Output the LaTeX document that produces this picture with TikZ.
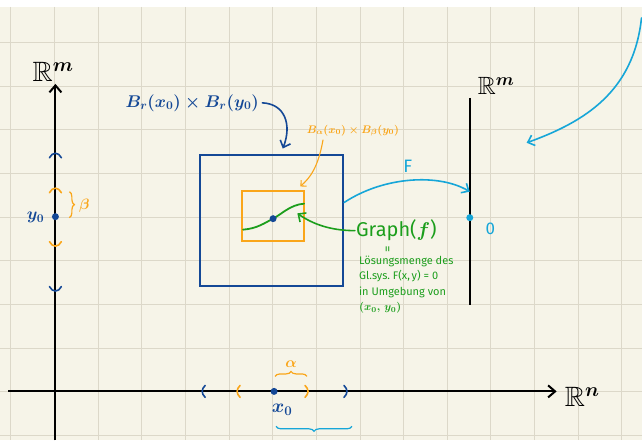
\RequirePackage{fix-cm}
\documentclass[tikz,border=0pt]{standalone}
\usepackage{amsmath,amssymb}
\usepackage{fontspec}
\setmainfont{Fira Sans}
\definecolor{paper}{RGB}{246,244,232}
\definecolor{gridgray}{RGB}{220,216,201}
\definecolor{inkblue}{RGB}{20,72,150}
\definecolor{inkorange}{RGB}{250,166,26}
\definecolor{inkgreen}{RGB}{28,158,28}
\definecolor{inkcyan}{RGB}{22,166,216}
\usetikzlibrary{arrows.meta,positioning,decorations.pathreplacing}

\begin{document}
\begin{tikzpicture}[x=1pt, y=-1pt,
  axisline/.style={line width=2pt, black},
  inkline/.style={line width=1.6pt, line cap=round},
  arrowtip/.style={-{Straight Barb[length=6pt, width=11pt]}},
  pointmark/.style={circle, fill=#1, inner sep=0pt, minimum size=7pt},
  curly/.style={decorate, decoration={brace, amplitude=5pt}, line width=1.2pt},
  sizept/.style={font=\fontsize{#1}{#1}\selectfont\boldmath}]

  % Paper and grid
  \fill[white] (0,0) rectangle (642,441);
  \fill[paper] (0,7) rectangle (642,441);
  \foreach \gx in {0,...,14}
    \draw[gridgray, line width=1pt] ({10.5+43.7*\gx},7) -- ({10.5+43.7*\gx},441);
  \foreach \gy in {0,...,9}
    \draw[gridgray, line width=1pt] (0,{42.7+43.7*\gy}) -- (642,{42.7+43.7*\gy});
  \useasboundingbox (0,0) rectangle (642,441);

  % Horizontal axis
  \coordinate (xleft) at (8,392);
  \coordinate (xright) at (557,392);
  \draw[axisline, -{Straight Barb[length=7pt, width=12pt]}] (xleft) -- (xright);
  \node[sizept=28, anchor=base west, inner sep=0pt] (Rn) at (565,407) {$\mathbb{R}^n$};

  % Vertical axis
  \coordinate (ybottom) at (55,441);
  \coordinate (ytop) at (55,84);
  \draw[axisline, -{Straight Barb[length=7pt, width=12pt]}] (ybottom) -- (ytop);
  \node[sizept=28, anchor=base west, inner sep=0pt] (Rmleft) at (32,82) {$\mathbb{R}^m$};

  % Intervals on the vertical axis
  \draw[inkline, inkblue] (49,158) .. controls (52,152) and (58,152) .. (61,158);
  \draw[inkline, inkorange] (49,193) .. controls (52,187) and (58,187) .. (61,193);
  \draw[inkline, inkorange] (49,242) .. controls (52,248) and (58,248) .. (61,242);
  \draw[inkline, inkblue] (49,287) .. controls (52,293) and (58,293) .. (61,287);
  \node[pointmark=inkblue] (y0) at (55,217) {};
  \node[text=inkblue, sizept=17] (y0lab) at (35,218) {$y_0$};
  \draw[curly, inkorange] (69,192) -- (69,218);
  \node[text=inkorange, sizept=15] (betalab) at (84,206) {$\beta$};

  % Intervals on the horizontal axis
  \draw[inkline, inkblue] (205,386) .. controls (201,390) and (201,394) .. (205,398);
  \draw[inkline, inkorange] (240,386) .. controls (236,390) and (236,394) .. (240,398);
  \draw[inkline, inkorange] (305,386) .. controls (309,390) and (309,394) .. (305,398);
  \draw[inkline, inkblue] (344,386) .. controls (348,390) and (348,394) .. (344,398);
  \node[pointmark=inkblue] (x0) at (274,392) {};
  \node[text=inkblue, sizept=19] (x0lab) at (282,410) {$x_0$};
  \draw[curly, inkorange] (275,377) -- (307,377);
  \node[text=inkorange, sizept=15] (alphalab) at (291,365) {$\alpha$};
  \draw[curly, inkcyan, decoration={mirror}] (276,427) -- (352,427);

  % Boxes
  \node[draw=inkblue, line width=2pt, minimum width=143pt, minimum height=132pt, inner sep=0pt] (Bbig) at (271.7,220.8) {};
  \node[draw=inkorange, line width=2pt, minimum width=62pt, minimum height=50pt, inner sep=0pt] (Bsmall) at (273.3,216.7) {};
  \draw[inkline, inkgreen, line width=1.8pt] (243,230) .. controls (257,229) and (265,223) .. (273,219)
    .. controls (281,215) and (290,205) .. (304,204);
  \node[pointmark=inkblue] (p0) at (273,219) {};

  % Box labels
  \node[text=inkblue, sizept=17] (Blab) at (192,103) {$B_r(x_0)\times B_r(y_0)$};
  \draw[inkline, inkblue, arrowtip] (Blab.east) .. controls (285,104) and (292,125) .. ([xshift=11pt, yshift=5pt]Bbig.north);
  \node[text=inkorange, sizept=11] (blab) at (353,131) {$B_\alpha(x_0)\times B_\beta(y_0)$};
  \draw[line width=1.1pt, line cap=round, inkorange, -{Straight Barb[length=4pt, width=8pt]}] ([xshift=-30pt]blab.south) .. controls (318,168) and (310,178) .. ([xshift=-5pt, yshift=4pt]Bsmall.north east);

  % Right axis
  \coordinate (rtop) at (470,98);
  \coordinate (rbottom) at (470,305);
  \draw[axisline] (rtop) -- (rbottom);
  \node[sizept=25, anchor=base west, inner sep=0pt] (Rmright) at (478,95) {$\mathbb{R}^m$};
  \node[pointmark=inkcyan] (zero) at (470,218) {};
  \node[text=inkcyan, sizept=17] (zerolab) at (490.5,229.5) {0};

  % Map F
  \draw[inkline, inkcyan, arrowtip] ([yshift=18pt]Bbig.east) .. controls (385,176) and (440,174) .. ([yshift=26pt]zero.center);
  \node[text=inkcyan, sizept=18] (Flab) at (408,167) {F};

  % Graph label
  \node[text=inkgreen, sizept=20, anchor=west, inner sep=1pt] (graphlab) at (355,231) {Graph($f$)};
  \draw[inkline, inkgreen, arrowtip] (graphlab.west) .. controls (330,231) and (312,224) .. ([xshift=-8pt, yshift=3pt]Bsmall.east);
  \node[text=inkgreen, sizept=13, rotate=90] (eqsign) at (389,250) {=};
  \node[text=inkgreen, font=\fontsize{11}{15.5}\selectfont\boldmath, align=left, anchor=north west, inner sep=0pt] (solset) at (359,256)
    {Lösungsmenge des\\Gl.sys.\ F(x,\,y) = 0\\in Umgebung von\\$(x_0,\,y_0)$};

  % Top right arrow
  \coordinate (cornerstart) at (642,18);
  \coordinate (cornerend) at (527,143);
  \draw[inkline, inkcyan, arrowtip] (cornerstart) .. controls (634,92) and (585,122) .. (cornerend);
\end{tikzpicture}
\end{document}
